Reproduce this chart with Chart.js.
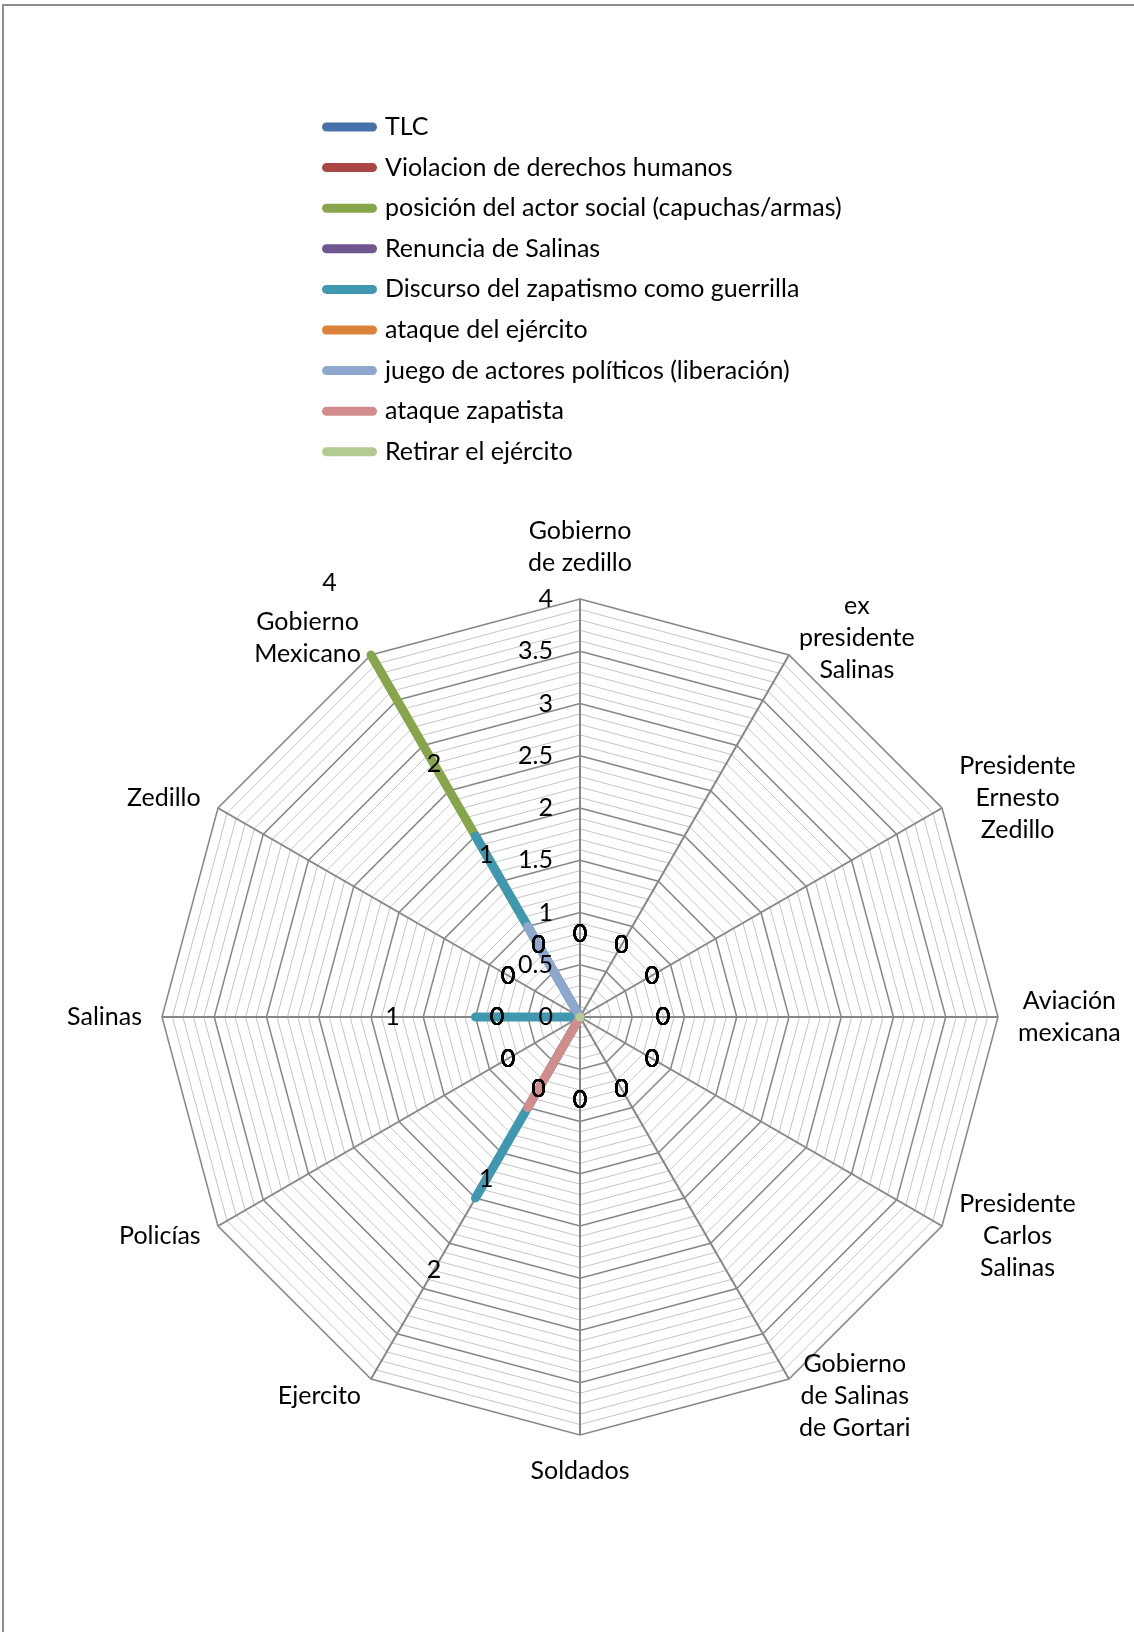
<!DOCTYPE html>
<html>
<head>
<meta charset="utf-8">
<script src="https://cdn.jsdelivr.net/npm/chart.js@4.4.1/dist/chart.umd.min.js"></script>
<style>
    html, body { margin: 0; padding: 0; background: #fff; overflow: hidden; }
    #frame { position: absolute; left: 2px; top: 4px; width: 1200px; height: 1700px;
             border-left: 2px solid #8e8e8e; border-top: 2px solid #8e8e8e; }
    #chart { position: absolute; left: 0; top: 0; }
</style>
</head>
<body>
<div id="frame"></div>
<canvas id="chart" width="1134" height="1632"></canvas>
<script>
// Categories around the radar (clockwise from the top)
const categories = [
    ['Gobierno', 'de zedillo'],
    ['ex', 'presidente', 'Salinas'],
    ['Presidente', 'Ernesto', 'Zedillo'],
    ['Aviación', 'mexicana'],
    ['Presidente', 'Carlos', 'Salinas'],
    ['Gobierno', 'de Salinas', 'de Gortari'],
    'Soldados',
    'Ejercito',
    'Policías',
    'Salinas',
    'Zedillo',
    ['Gobierno', 'Mexicano']
];

const seriesNames = [
    'TLC',
    'Violacion de derechos humanos',
    'posición del actor social (capuchas/armas)',
    'Renuncia de Salinas',
    'Discurso del zapatismo como guerrilla',
    'ataque del ejército',
    'juego de actores políticos (liberación)',
    'ataque zapatista',
    'Retirar el ejército'
];

const seriesColors = [
    '#4672a9', '#aa4644', '#87a54b', '#6f568e', '#3f97b0',
    '#db8238', '#8ea7cf', '#d08d8c', '#b3ca92'
];

const tlc        = [0, 0, 0, 0, 0, 0, 0, 0, 0, 0, 0, 0];
const violacion  = [0, 0, 0, 0, 0, 0, 0, 0, 0, 0, 0, 0];
const posicion   = [0, 0, 0, 0, 0, 0, 0, 0, 0, 0, 0, 4];
const renuncia   = [0, 0, 0, 0, 0, 0, 0, 0, 0, 0, 0, 0];
const discurso   = [0, 0, 0, 0, 0, 0, 0, 2, 0, 1, 0, 2];
const ataqueEj   = [0, 0, 0, 0, 0, 0, 0, 0, 0, 0, 0, 0];
const juego      = [0, 0, 0, 0, 0, 0, 0, 0, 0, 0, 0, 1];
const ataqueZap  = [0, 0, 0, 0, 0, 0, 0, 1, 0, 0, 0, 0];
const retirar    = [0, 0, 0, 0, 0, 0, 0, 0, 0, 0, 0, 0];

const seriesValues = [tlc, violacion, posicion, renuncia, discurso, ataqueEj, juego, ataqueZap, retirar];

const tickValues = [0, 0.5, 1, 1.5, 2, 2.5, 3, 3.5, 4];

const FONT = 'Lato';
const FONT_SIZE = 25;

function isMajor(v) {
    return Math.abs(v * 2 - Math.round(v * 2)) < 1e-6;
}

// Puts the legend where the original has it and draws the texts
const textLayer = {
    id: 'textLayer',
    afterLayout(chart) {
        const lg = chart.legend;
        const pad = lg.options.labels.padding;
        lg.left = 326.5 - pad;
        lg.right = lg.left + lg.width;
        lg.top = 114.5 - pad;
        lg.bottom = chart.height;
    },
    afterDatasetsDraw(chart) {
        const r = chart.scales.r;
        const ctx = chart.ctx;
        ctx.save();
        ctx.fillStyle = '#000';
        ctx.font = FONT_SIZE + 'px ' + FONT;
        ctx.textBaseline = 'middle';

        // axis values, left of the vertical spoke
        ctx.textAlign = 'right';
        tickValues.forEach(v => {
            ctx.fillText(String(v), r.xCenter - 27, r.yCenter - r.getDistanceFromCenterForValue(v));
        });

        // data labels, pushed outwards along each spoke
        ctx.textAlign = 'center';
        chart.data.datasets.forEach(ds => {
            ds.data.forEach((v, i) => {
                const p = r.getPointPosition(i, r.getDistanceFromCenterForValue(v) + 83);
                ctx.fillText(String(v), p.x, p.y);
            });
        });

        // category labels
        const lineH = 32;
        chart.data.labels.forEach((lbl, i) => {
            const lines = Array.isArray(lbl) ? lbl : [lbl];
            const angle = r.getIndexAngle(i);
            const s = Math.sin(angle), c = Math.cos(angle);
            const p = r.getPointPosition(i, r.drawingArea + 20);
            const w = Math.max(...lines.map(t => ctx.measureText(t).width));
            const side = Math.abs(s) < 1e-6 ? 0 : Math.sign(s);
            const cx = p.x + side * w / 2;
            let top;
            if (side === 0) {
                top = c > 0 ? p.y - lines.length * lineH : p.y;
            } else {
                top = p.y - lines.length * lineH / 2;
            }
            lines.forEach((t, k) => ctx.fillText(t, cx, top + (k + 0.5) * lineH));
        });
        ctx.restore();
    }
};

const datasets = seriesNames.map((name, i) => ({
    label: name,
    data: seriesValues[i],
    borderColor: seriesColors[i],
    backgroundColor: seriesColors[i],
    borderWidth: 9,
    borderCapStyle: 'round',
    borderJoinStyle: 'round',
    pointRadius: 0,
    fill: false,
    order: seriesNames.length - i
}));

new Chart(document.getElementById('chart'), {
    type: 'radar',
    data: { labels: categories, datasets: datasets },
    options: {
        responsive: false,
        animation: false,
        devicePixelRatio: 1,
        events: [],
        layout: { padding: { left: 100, right: 74, top: 599, bottom: 197 } },
        font: { family: FONT, size: FONT_SIZE },
        scales: {
            r: {
                min: 0,
                max: 4,
                ticks: { display: false, stepSize: 0.1 },
                grid: {
                    color: c => isMajor(c.tick.value) ? '#878787' : '#c4c4c4',
                    lineWidth: c => isMajor(c.tick.value) ? 1.5 : 1
                },
                angleLines: { color: '#878787', lineWidth: 2 },
                pointLabels: { display: false }
            }
        },
        plugins: {
            tooltip: { enabled: false },
            legend: {
                position: 'chartArea',
                align: 'start',
                labels: {
                    usePointStyle: true,
                    pointStyle: 'line',
                    pointStyleWidth: 46,
                    boxHeight: 9,
                    padding: 15.6,
                    color: '#000',
                    font: { family: FONT, size: FONT_SIZE },
                    sort: (a, b) => a.datasetIndex - b.datasetIndex,
                    generateLabels(chart) {
                        const items = Chart.defaults.plugins.legend.labels.generateLabels(chart);
                        return items.map(item => {
                            const ds = chart.data.datasets[item.datasetIndex];
                            return Object.assign(item, {
                                pointStyle: 'line',
                                lineWidth: 9,
                                lineCap: 'round',
                                strokeStyle: ds.borderColor
                            });
                        });
                    }
                }
            }
        }
    },
    plugins: [textLayer]
});
</script>
</body>
</html>
